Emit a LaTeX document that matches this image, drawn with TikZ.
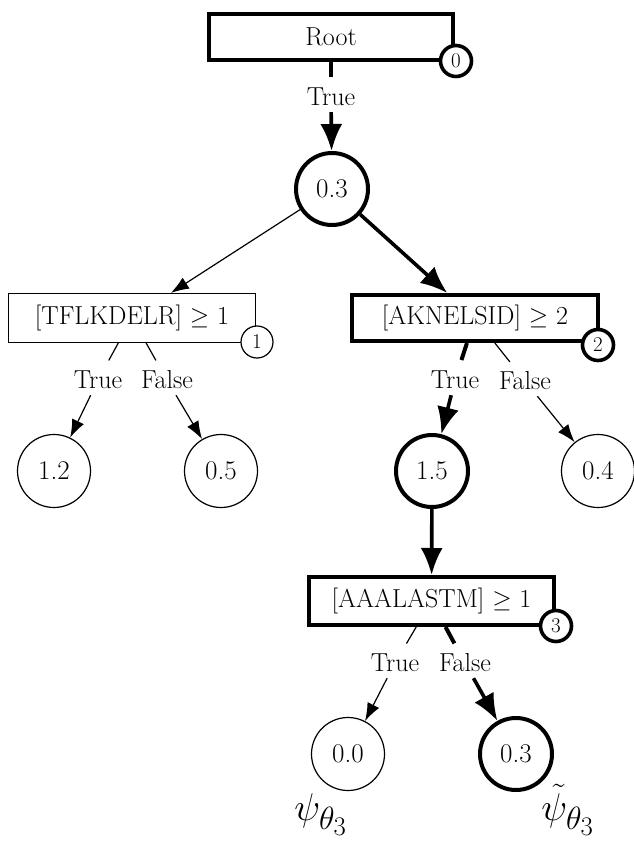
\documentclass[tikz,border=0pt]{standalone}
\usetikzlibrary{arrows.meta}
\begin{document}
\begin{tikzpicture}[x=1pt,y=-1pt,
  every node/.style={font=\fontsize{26}{30}\selectfont},
  thinln/.style={line width=1.2pt},
  thickln/.style={line width=4pt},
  thinarr/.style={line width=1.2pt,-{Latex[length=18pt,width=13pt]}},
  thickarr/.style={line width=3.6pt,-{Latex[length=27pt,width=22pt]}},
  boxthin/.style={draw,line width=1.2pt,inner sep=0pt,minimum height=49pt},
  boxthick/.style={draw,line width=4pt,inner sep=0pt,minimum height=46pt},
  idthin/.style={draw,circle,fill=white,line width=1.2pt,inner sep=0pt,minimum size=32pt,font=\fontsize{21}{24}\selectfont},
  idthick/.style={draw,circle,fill=white,line width=3.6pt,inner sep=0pt,minimum size=31pt,font=\fontsize{21}{24}\selectfont},
  valthin/.style={draw,circle,line width=1.2pt,inner sep=0pt,minimum size=73pt,font=\fontsize{27}{30}\selectfont},
  valthick/.style={draw,circle,line width=4pt,inner sep=0pt,minimum size=72pt,font=\fontsize{27}{30}\selectfont},
  lab/.style={inner sep=0pt,text height=17pt,text depth=0pt,minimum height=30pt},
  stub/.style={shorten >=5pt},
  psilab/.style={font=\fontsize{24.88}{30}\selectfont,inner sep=0pt,anchor=base}
]
\useasboundingbox (0,0) rectangle (633,843);

% nodes
\node[boxthick,minimum width=244pt] (root) at (331,37) {Root};
\node[lab] (t0) at (331,97) {True};
\node[valthick] (v0) at (332,189) {0.3};

\node[boxthin,minimum width=247pt] (b1) at (132,318) {[TFLKDELR] $\geq$ 1};
\node[boxthick,minimum width=246pt] (b2) at (475,318) {[AKNELSID] $\geq$ 2};

\node[lab] (t1) at (98,380) {True};
\node[lab] (f1) at (167,380) {False};
\node[lab] (t2) at (455,380) {True};
\node[lab] (f2) at (525,381) {False};

\node[valthin] (l12) at (54,471) {1.2};
\node[valthin] (l05) at (221,471) {0.5};
\node[valthick] (l15) at (432,471) {1.5};
\node[valthin] (l04) at (598,471) {0.4};

\node[boxthick,minimum width=245pt,minimum height=48pt] (b3) at (431.5,601) {[AAALASTM] $\geq$ 1};
\node[lab] (t3) at (395,663) {True};
\node[lab] (f3) at (465,663) {False};

\node[valthin] (l00) at (348,754) {0.0};
\node[valthick] (l03) at (516,754) {0.3};

\node[psilab] (psiA) at (321,820) {\scalebox{1.55}{$\psi_{\theta_3}$}};
\node[psilab] (psiB) at (568,820) {\scalebox{1.55}{$\tilde{\psi}_{\theta_3}$}};

% connectors
\draw[thickln,stub] (root) -- (t0);
\draw[thickarr] (t0) -- (v0);
\draw[thinarr] (v0) -- (b1);
\draw[thickarr] (v0) -- (b2);

\draw[thinln,stub] (b1) -- (t1);
\draw[thinln,stub] (b1) -- (f1);
\draw[thinarr] (t1) -- (l12);
\draw[thinarr] (f1) -- (l05);

\draw[thickln,stub] (b2) -- (t2);
\draw[thinln,stub] (b2) -- (f2);
\draw[thickarr] (t2) -- (l15);
\draw[thinarr] (f2) -- (l04);

\draw[thickarr] (l15) -- (b3);

\draw[thinln,stub] (b3) -- (t3);
\draw[thickln,stub] (b3) -- (f3);
\draw[thinarr] (t3) -- (l00);
\draw[thickarr] (f3) -- (l03);

% id circles
\node[idthick] (i0) at (456,61) {0};
\node[idthin] (i1) at (257,342) {1};
\node[idthick] (i2) at (598,345) {2};
\node[idthick] (i3) at (556,626) {3};
\end{tikzpicture}
\end{document}
